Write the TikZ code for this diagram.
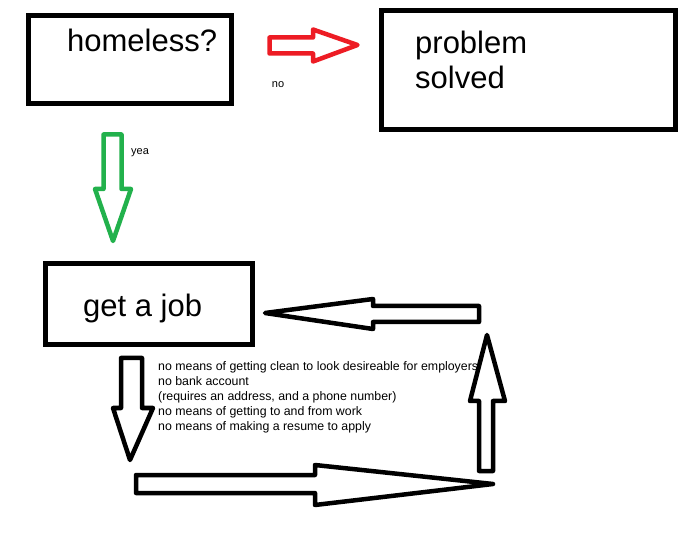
\documentclass[tikz,border=0pt]{standalone}
\usepackage{fontspec}
\setmainfont{Liberation Sans}
\definecolor{paintred}{HTML}{ED1C24}
\definecolor{paintgreen}{HTML}{22B14C}
\begin{document}
\begin{tikzpicture}[x=1pt,y=-1pt,
  box/.style={draw=black,line width=5pt,inner sep=0pt,fill=white},
  bigtext/.style={anchor=base west,inner sep=0pt,font=\fontsize{31}{35}\selectfont},
  smalltext/.style={inner sep=0pt,font=\fontsize{11}{13}\selectfont},
  blockarrow/.style={line width=4.5pt,line join=round}]
\useasboundingbox (0,0) rectangle (688,534);
\fill[white] (0,0) rectangle (688,534);

% boxes
\node[box,minimum width=203pt,minimum height=88pt] (homeless) at (129.5,60) {};
\node[bigtext] (homelesstext) at (67,52) {homeless?};

\node[box,minimum width=294pt,minimum height=119pt] (solved) at (528,70.5) {};
\node[bigtext] (solvedtext1) at (415,54) {problem};
\node[bigtext] (solvedtext2) at (415,89) {solved};

\node[box,minimum width=207pt,minimum height=81pt] (job) at (148.5,304.5) {};
\node[bigtext] (jobtext) at (83,317) {get a job};

% labels
\node[smalltext] (no) at (278,85) {no};
\node[smalltext,anchor=west] (yea) at (131,153) {yea};
\node[anchor=north west,inner sep=0pt,align=left,font=\fontsize{12.35}{15}\selectfont] (notes) at (158,361)
  {no means of getting clean to look desireable for employers\\
   no bank account\\
   (requires an address, and a phone number)\\
   no means of getting to and from work\\
   no means of making a resume to apply};

% red arrow (no)
\draw[blockarrow,paintred] (269.5,37.5) -- (313,37.5) -- (313,29.5) -- (357.5,45) -- (313,61.5) -- (313,53.5) -- (269.5,53.5) -- cycle;

% green arrow (yea)
\draw[blockarrow,paintgreen] (103.5,134.5) -- (121.5,134.5) -- (121.5,189) -- (131,189) -- (113,241) -- (95,189) -- (103.5,189) -- cycle;

% black cycle arrows
\draw[blockarrow] (121,358) -- (142,358) -- (142,408) -- (153,408) -- (130,460) -- (113,408) -- (121,408) -- cycle;
\draw[blockarrow] (136,475) -- (315,475) -- (315,465) -- (493,484) -- (315,505) -- (315,493) -- (136,493) -- cycle;
\draw[blockarrow] (479,471) -- (479,401) -- (470,401) -- (487,335) -- (505,401) -- (493,401) -- (493,471) -- cycle;
\draw[blockarrow] (479,306) -- (373,306) -- (373,299) -- (265,313) -- (373,329) -- (373,322) -- (479,322) -- cycle;
\end{tikzpicture}
\end{document}
